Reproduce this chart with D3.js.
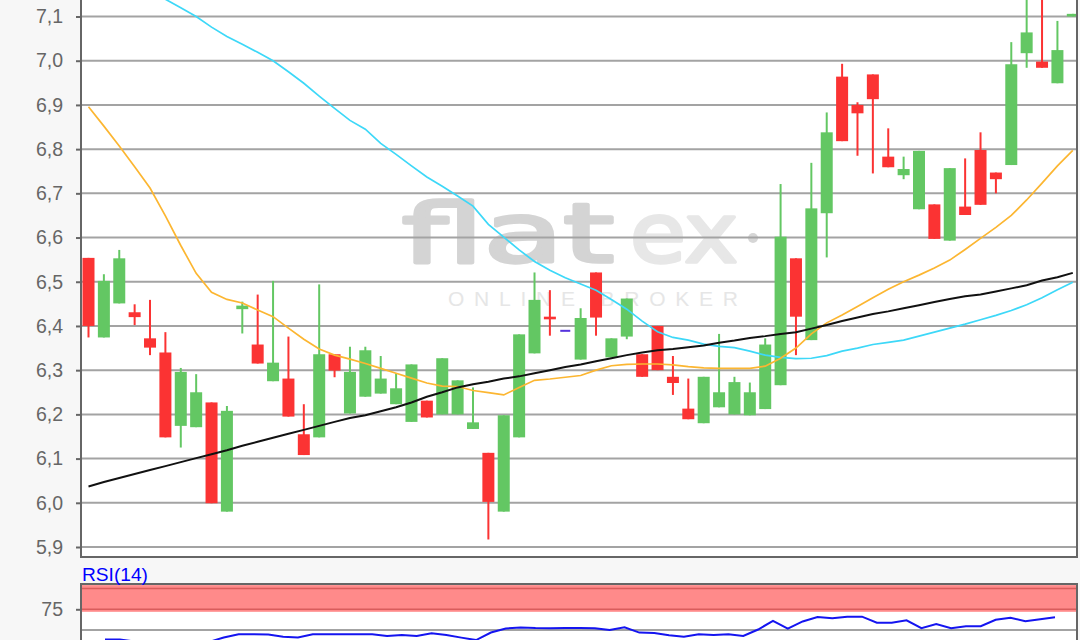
<!DOCTYPE html>
<html><head><meta charset="utf-8">
<script src="https://cdn.jsdelivr.net/npm/d3@7/dist/d3.min.js"></script>
<style>html,body{margin:0;padding:0;background:#f7f7f7;overflow:hidden}</style>
</head><body>
<svg id="c" width="1080" height="640"></svg>
<script>
// ---------- data ----------
const priceTicks = [5.9, 6.0, 6.1, 6.2, 6.3, 6.4, 6.5, 6.6, 6.7, 6.8, 6.9, 7.0, 7.1];
const rsiTicks = [75];
const openP  = [6.554,6.374,6.451,6.431,6.372,6.340,6.174,6.171,6.227,5.980,6.438,6.358,6.275,6.281,6.155,6.148,6.336,6.202,6.240,6.247,6.223,6.183,6.231,6.200,6.200,6.167,6.113,5.980,6.148,6.338,6.421,6.389,6.324,6.521,6.329,6.376,6.336,6.400,6.285,6.213,6.180,6.216,6.200,6.198,6.212,6.266,6.553,6.368,6.655,6.964,6.900,6.969,6.783,6.741,6.664,6.675,6.593,6.670,6.798,6.747,6.764,7.017,6.998,6.949,7.100];
const highP  = [6.554,6.517,6.572,6.449,6.459,6.386,6.305,6.291,6.227,6.219,6.455,6.471,6.502,6.376,6.223,6.494,6.336,6.353,6.353,6.332,6.293,6.313,6.231,6.327,6.277,6.261,6.113,6.198,6.381,6.521,6.481,6.389,6.440,6.521,6.372,6.462,6.336,6.400,6.332,6.281,6.285,6.382,6.285,6.272,6.372,6.721,6.553,6.769,6.883,6.993,6.906,6.969,6.847,6.783,6.796,6.675,6.757,6.779,6.838,6.747,7.042,7.150,7.150,7.090,7.106];
const lowP   = [6.374,6.374,6.451,6.402,6.334,6.148,6.125,6.171,5.999,5.980,6.383,6.315,6.275,6.195,6.108,6.148,6.284,6.202,6.240,6.247,6.223,6.183,6.193,6.200,6.200,6.167,5.917,5.980,6.148,6.338,6.378,6.389,6.324,6.378,6.329,6.370,6.285,6.300,6.244,6.189,6.180,6.216,6.200,6.198,6.212,6.266,6.334,6.368,6.555,6.818,6.785,6.745,6.759,6.732,6.664,6.597,6.593,6.651,6.674,6.700,6.764,6.984,6.984,6.949,7.100];
const closeP = [6.400,6.502,6.553,6.420,6.351,6.148,6.296,6.250,5.999,6.208,6.446,6.315,6.317,6.195,6.108,6.336,6.299,6.296,6.345,6.281,6.259,6.313,6.193,6.327,6.277,6.182,6.002,6.198,6.381,6.459,6.415,6.389,6.418,6.419,6.372,6.462,6.285,6.300,6.271,6.189,6.285,6.250,6.273,6.250,6.358,6.602,6.421,6.666,6.838,6.818,6.881,6.913,6.759,6.755,6.796,6.597,6.757,6.651,6.674,6.732,6.992,7.064,6.984,7.024,7.106];
const maOrange = [6.896,6.852,6.807,6.760,6.712,6.649,6.582,6.519,6.476,6.460,6.452,6.436,6.421,6.395,6.370,6.348,6.334,6.325,6.315,6.304,6.293,6.282,6.271,6.264,6.263,6.254,6.249,6.244,6.261,6.277,6.280,6.284,6.288,6.300,6.310,6.313,6.314,6.314,6.312,6.308,6.305,6.304,6.304,6.304,6.309,6.327,6.350,6.382,6.407,6.425,6.444,6.464,6.483,6.500,6.515,6.531,6.549,6.573,6.598,6.623,6.650,6.685,6.723,6.762,6.797];
const maCyan = [7.236,7.217,7.197,7.178,7.159,7.139,7.120,7.100,7.076,7.055,7.037,7.019,7.000,6.975,6.949,6.920,6.892,6.865,6.845,6.813,6.788,6.762,6.737,6.716,6.694,6.671,6.630,6.601,6.572,6.546,6.526,6.509,6.495,6.481,6.460,6.438,6.411,6.387,6.374,6.368,6.359,6.354,6.351,6.343,6.334,6.329,6.326,6.327,6.333,6.343,6.350,6.358,6.363,6.368,6.377,6.386,6.395,6.404,6.414,6.424,6.435,6.448,6.464,6.482,6.499];
const maBlack = [6.037,6.047,6.056,6.065,6.074,6.083,6.092,6.101,6.110,6.119,6.129,6.138,6.147,6.156,6.165,6.174,6.183,6.192,6.198,6.207,6.216,6.227,6.240,6.250,6.261,6.268,6.274,6.281,6.286,6.293,6.300,6.307,6.313,6.320,6.327,6.334,6.340,6.345,6.348,6.352,6.356,6.362,6.367,6.373,6.377,6.382,6.386,6.394,6.402,6.411,6.419,6.427,6.433,6.440,6.447,6.454,6.461,6.467,6.471,6.478,6.485,6.492,6.503,6.510,6.520];
const rsi14 = [38.5,38.5,36.1,31.9,28.9,25.8,29.5,35.5,41.0,44.8,44.8,44.6,41.9,41.0,44.8,44.8,44.8,44.8,44.8,42.8,44.0,42.8,46.1,44.0,40.8,37.9,47.0,51.8,53.0,52.4,52.2,52.3,52.4,52.2,50.0,53.4,46.9,46.3,43.6,42.0,45.0,44.0,45.0,42.8,50.6,60.9,51.6,60.3,65.7,64.1,66.1,66.1,58.8,58.8,61.7,52.2,57.2,52.2,54.5,54.5,62.4,64.9,60.5,62.9,65.3];
const rsiBand = [75, 100];
const rsiGrid = [50];

// ---------- layout ----------
const W = 1080, H = 640;
const L = 81, R = 1077, B = 557;
const rsiTop = 584;
const svg = d3.select('#c');
svg.append('rect').attr('width', W).attr('height', H).attr('fill', '#f7f7f7');

const idx = d3.range(closeP.length);
const x = d3.scaleLinear().domain([0, idx.length - 1]).range([88.5, 1072.8]);
const y = d3.scaleLinear().domain([5.9, 7.1]).range([547, 16.5]);

const defs = svg.append('defs');
defs.append('clipPath').attr('id', 'clipMain').append('rect')
  .attr('x', L).attr('y', -20).attr('width', R - L).attr('height', B + 20);
defs.append('clipPath').attr('id', 'clipRsi').append('rect')
  .attr('x', L).attr('y', rsiTop).attr('width', R - L).attr('height', H - rsiTop);

// main plot background
svg.append('rect').attr('x', L).attr('y', -20).attr('width', R - L).attr('height', B + 20).attr('fill', '#fff');

const main = svg.append('g').attr('clip-path', 'url(#clipMain)');

// watermark
const wm = main.append('g');
wm.append('text').attr('x', 402).attr('y', 262)
  .attr('font-family', 'DejaVu Sans').attr('font-size', 82)
  .attr('textLength', 212).attr('lengthAdjust', 'spacingAndGlyphs')
  .attr('fill', '#d4d4d4').attr('stroke', '#d4d4d4').attr('stroke-width', 3.5)
  .attr('stroke-linejoin', 'round').text('flat');
wm.append('text').attr('x', 630).attr('y', 262)
  .attr('font-family', 'DejaVu Sans').attr('font-size', 82)
  .attr('textLength', 108).attr('lengthAdjust', 'spacingAndGlyphs')
  .attr('fill', '#e7e7e7').attr('stroke', '#e7e7e7').attr('stroke-width', 3.5)
  .attr('stroke-linejoin', 'round').text('ex');
wm.append('circle').attr('cx', 753).attr('cy', 238).attr('r', 5).attr('fill', '#d6d6d6');
wm.append('text').attr('x', 448).attr('y', 306)
  .attr('font-family', 'Liberation Sans').attr('font-size', 21)
  .attr('textLength', 290).attr('lengthAdjust', 'spacing')
  .attr('fill', '#e6e6e6').text('ONLINE BROKER');

// grid
main.append('g').selectAll('line').data(priceTicks).join('line')
  .attr('x1', L).attr('x2', R).attr('y1', d => y(d)).attr('y2', d => y(d))
  .attr('stroke', '#a3a3a3').attr('stroke-width', 2);

// candles
const colorOf = i => closeP[i] > openP[i] ? '#63c763' : (closeP[i] < openP[i] ? '#fb3333' : '#5533dd');
const cg = main.append('g');
cg.selectAll('line').data(idx).join('line')
  .attr('x1', i => x(i)).attr('x2', i => x(i))
  .attr('y1', i => y(highP[i])).attr('y2', i => y(lowP[i]))
  .attr('stroke', colorOf).attr('stroke-width', 2);
cg.selectAll('rect').data(idx).join('rect')
  .attr('x', i => x(i) - (openP[i] === closeP[i] ? 5 : 6))
  .attr('width', i => openP[i] === closeP[i] ? 10 : 12)
  .attr('y', i => y(Math.max(openP[i], closeP[i])) - (openP[i] === closeP[i] ? 1 : 0))
  .attr('height', i => Math.max(2, Math.abs(y(openP[i]) - y(closeP[i]))))
  .attr('fill', colorOf);

// moving averages
const ln = d3.line().x((d, i) => x(i)).y(d => y(d));
main.append('path').datum(maCyan).attr('d', ln).attr('fill', 'none').attr('stroke', '#3dd8f8').attr('stroke-width', 1.7);
main.append('path').datum(maOrange).attr('d', ln).attr('fill', 'none').attr('stroke', '#fcb631').attr('stroke-width', 1.7);
main.append('path').datum(maBlack).attr('d', ln).attr('fill', 'none').attr('stroke', '#111').attr('stroke-width', 2);

// borders / axis
const yAxis = d3.axisLeft(y).tickValues(priceTicks).tickSize(5).tickPadding(13)
  .tickFormat(d => d.toFixed(1).replace('.', ','));
const ag = svg.append('g').attr('transform', `translate(${L},0)`).call(yAxis);
ag.select('.domain').remove();
ag.selectAll('.tick line').attr('stroke', '#666').attr('stroke-width', 2);
ag.selectAll('.tick text').attr('fill', '#666').attr('font-size', 19.5).attr('font-family', 'Liberation Sans');
svg.append('line').attr('x1', L).attr('x2', L).attr('y1', 0).attr('y2', B + 1).attr('stroke', '#666').attr('stroke-width', 2);
svg.append('line').attr('x1', L - 1).attr('x2', R + 1).attr('y1', B).attr('y2', B).attr('stroke', '#666').attr('stroke-width', 2);
svg.append('line').attr('x1', R).attr('x2', R).attr('y1', 0).attr('y2', B).attr('stroke', '#666').attr('stroke-width', 2);

// ---------- RSI panel ----------
const yR = d3.scaleLinear().domain([50, 100]).range([630, 588.6]);
const xR = d3.scaleLinear().domain([0, idx.length - 1]).range([105, 1055]);
svg.append('rect').attr('x', L).attr('y', rsiTop).attr('width', R - L).attr('height', H - rsiTop).attr('fill', '#fff');
const rp = svg.append('g').attr('clip-path', 'url(#clipRsi)');
rp.append('rect').attr('x', L).attr('y', yR(rsiBand[1]) - 3.5).attr('width', R - L)
  .attr('height', yR(rsiBand[0]) - yR(rsiBand[1]) + 6).attr('fill', '#ff8a8a');
rp.selectAll('line.band').data(rsiBand).join('line').attr('class', 'band')
  .attr('x1', L).attr('x2', R).attr('y1', d => yR(d)).attr('y2', d => yR(d))
  .attr('stroke', '#d95c5c').attr('stroke-width', 1.5);
rp.selectAll('line.grid').data(rsiGrid).join('line').attr('class', 'grid')
  .attr('x1', L).attr('x2', R).attr('y1', d => yR(d)).attr('y2', d => yR(d))
  .attr('stroke', '#a3a3a3').attr('stroke-width', 2);
rp.append('path').datum(rsi14)
  .attr('d', d3.line().x((d, i) => xR(i)).y(d => yR(d)))
  .attr('fill', 'none').attr('stroke', '#1414f0').attr('stroke-width', 2);

const rAxis = d3.axisLeft(yR).tickValues(rsiTicks).tickSize(5).tickPadding(13);
const rg = svg.append('g').attr('transform', `translate(${L},0)`).call(rAxis);
rg.select('.domain').remove();
rg.selectAll('.tick line').attr('stroke', '#666').attr('stroke-width', 2);
rg.selectAll('.tick text').attr('fill', '#666').attr('font-size', 19.5).attr('font-family', 'Liberation Sans');
svg.append('line').attr('x1', L - 1).attr('x2', R + 1).attr('y1', rsiTop).attr('y2', rsiTop).attr('stroke', '#666').attr('stroke-width', 2);
svg.append('line').attr('x1', L).attr('x2', L).attr('y1', rsiTop).attr('y2', H).attr('stroke', '#666').attr('stroke-width', 2);
svg.append('line').attr('x1', R).attr('x2', R).attr('y1', rsiTop).attr('y2', H).attr('stroke', '#666').attr('stroke-width', 2);
svg.append('text').attr('x', 82).attr('y', 581).attr('fill', '#0000ff')
  .attr('font-family', 'Liberation Sans').attr('font-size', 18)
  .attr('textLength', 66).attr('lengthAdjust', 'spacingAndGlyphs').text('RSI(14)');
</script>
</body></html>
